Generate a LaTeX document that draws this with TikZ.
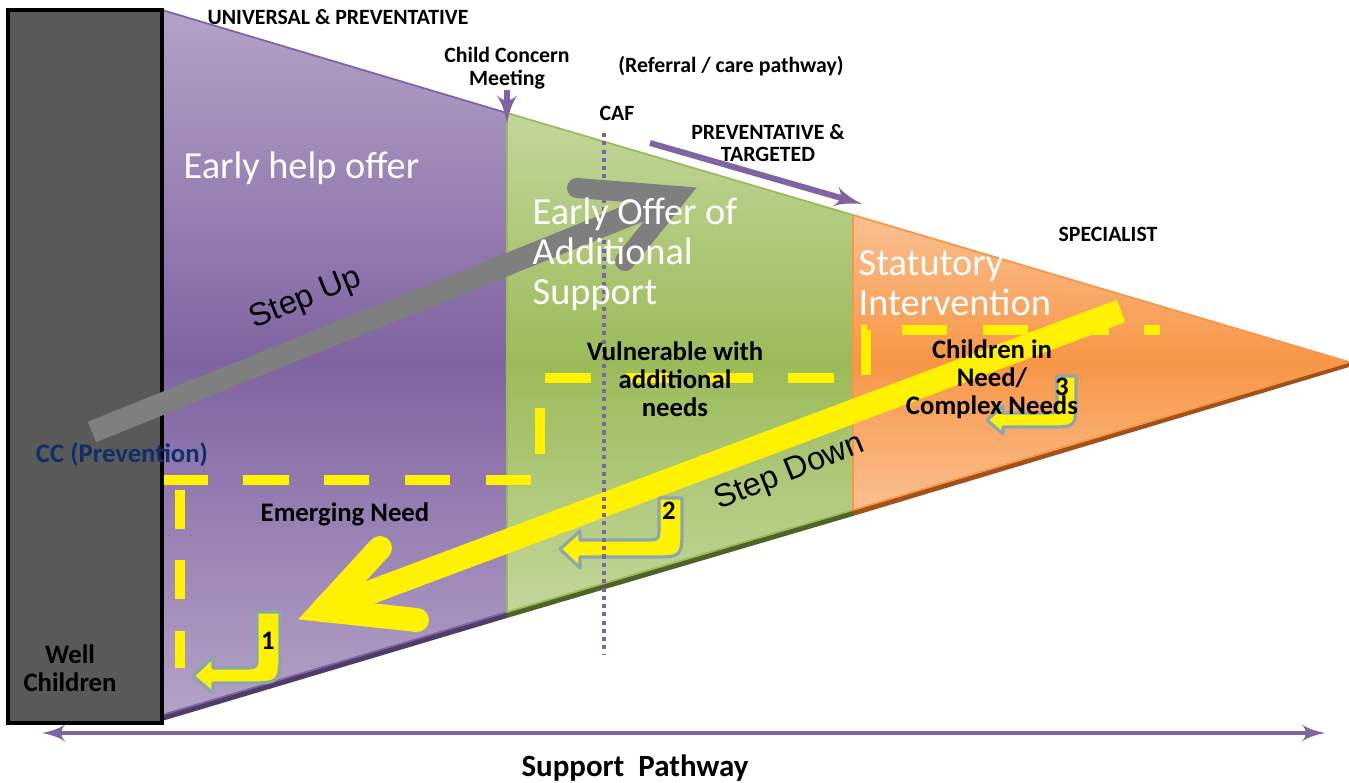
\documentclass[tikz,border=0pt]{standalone}
\usepackage{fontspec}
\setmainfont{Carlito}
\newfontfamily\arialfont{Liberation Sans}
\usetikzlibrary{shapes,arrows,positioning}

\definecolor{wellgrey}{HTML}{595959}
\definecolor{stepgrey}{HTML}{7F7F7F}
\definecolor{pathpurple}{HTML}{8064A2}
\definecolor{lilac}{HTML}{B3A2C7}
\definecolor{lilacshadow}{HTML}{4F3D68}
\definecolor{leaf}{HTML}{9BBB59}
\definecolor{paleleaf}{HTML}{C3D69B}
\definecolor{leafshadow}{HTML}{4F6228}
\definecolor{amber}{HTML}{F79646}
\definecolor{paleamber}{HTML}{FAC090}
\definecolor{ambershadow}{HTML}{A0521A}
\definecolor{ccblue}{HTML}{0F2F6B}
\definecolor{turnedge}{HTML}{8DA6AE}

\tikzstyle{tag} = [font=\bfseries\fontsize{6.2}{6.5}\selectfont, align=center, inner sep=0pt]
\tikzstyle{need} = [font=\bfseries\fontsize{7.6}{8}\selectfont, align=center, inner sep=0pt]
\tikzstyle{zone} = [text=white, font=\fontsize{10.9}{11.4}\selectfont, align=left, anchor=west, inner sep=0pt]
\tikzstyle{steplabel} = [font=\arialfont\fontsize{9.2}{10}\selectfont, rotate=22, inner sep=0pt]
\tikzstyle{pathline} = [draw=pathpurple, -latex', line width=1.7pt]
\tikzstyle{dashline} = [draw=yellow, line width=2.85pt, dash pattern=on 13pt off 10pt]
\tikzstyle{turn} = [fill=yellow, draw=turnedge, line width=0.9pt, line join=round]
\tikzstyle{chevron} = [line cap=round, line join=miter]

\begin{document}
\begin{tikzpicture}[x=0.01cm, y=-0.01cm]
	\useasboundingbox (0,0) rectangle (1349,783);
	
	% the funnel: universal, targeted, specialist
	\fill[lilacshadow] (162,715) -- (507,612) -- (507,618) -- (162,721) -- cycle;
	\fill[leafshadow] (507,612) -- (853,510) -- (853,516) -- (507,618) -- cycle;
	\fill[ambershadow] (853,510) -- (1349,362) -- (1349,367) -- (853,516) -- cycle;
	\shadedraw[draw=pathpurple, line width=0.5pt, top color=lilac, bottom color=lilac, middle color=pathpurple] (162,10) -- (507,113) -- (507,612) -- (162,715) -- cycle;
	\shadedraw[draw=leaf, line width=0.5pt, top color=paleleaf, bottom color=paleleaf, middle color=leaf] (507,113) -- (853,215) -- (853,510) -- (507,612) -- cycle;
	\shadedraw[draw=amber, line width=0.5pt, top color=paleamber, bottom color=paleamber, middle color=amber] (853,215) -- (1349,362) -- (853,510) -- cycle;
	
	\draw[dashline] (162,480) -| (540,378) -| (866,330) -- (1160,330);
	\draw[dashline, dash pattern=on 11pt off 9pt] (180,490) -- (180,668);
	
	\coordinate (downstart) at (1121,311);
	\coordinate (downtip) at (323,610);
	\draw[yellow, line width=6.8pt] (downstart) -- (downtip);
	\draw[yellow, chevron, line width=6.8pt] (380,548) -- (downtip) -- (417,620);
	
	\draw[turn] (257,612) -- (280,612) -- (280,650) .. controls (280,683) .. (247,683) -- (213,683) -- (213,693) -- (193,676) -- (213,657) -- (213,668) -- (243,668) .. controls (257,668) .. (257,654) -- cycle;
	\draw[turn] (659,498) -- (682,498) -- (682,527) .. controls (682,557) .. (652,557) -- (580,557) -- (580,568) -- (560,549) -- (580,531) -- (580,540) -- (645,540) .. controls (659,540) .. (659,526) -- cycle;
	\draw[turn] (1057,376) -- (1076,376) -- (1076,400) .. controls (1076,427) .. (1049,427) -- (1003,427) -- (1003,434) -- (987,420) -- (1003,406) -- (1003,413) -- (1045,413) .. controls (1057,413) .. (1057,401) -- cycle;
	
	\coordinate (caftop) at (604,133);
	\coordinate (cafbottom) at (604,655);
	\draw[pathpurple, line width=1.15pt, dash pattern=on 1.15pt off 1.2pt] (caftop) -- (cafbottom);
	
	\draw[fill=wellgrey, line width=0.9pt] (8,10) rectangle (162,723);
	
	\coordinate (upstart) at (92,432);
	\coordinate (uptip) at (677,196);
	\draw[stepgrey, line width=6.26pt] (upstart) -- (uptip);
	\draw[stepgrey, chevron, line width=5.7pt] (577,188) -- (uptip) -- (625,261);
	
	\node[tag] (universal) at (338,17) {UNIVERSAL \& PREVENTATIVE};
	\node[tag] (ccm) at (507,68) {Child Concern\\Meeting};
	\coordinate (ccmtip) at (507,123);
	\path[pathline] (ccm) -- (ccmtip);
	\node[tag] (referral) at (731,66) {(Referral / care pathway)};
	\node[tag] (caf) at (617,113) {CAF};
	\coordinate (targetfrom) at (650,143);
	\coordinate (targetto) at (862,204);
	\path[pathline] (targetfrom) -- (targetto);
	\node[tag] (targeted) at (768,143) {PREVENTATIVE \&\\TARGETED};
	\node[tag] (specialist) at (1108,234) {SPECIALIST};
	
	\node[zone] (earlyhelp) at (183,168) {Early help offer};
	\node[zone] (earlyoffer) at (532,254) {Early Offer of\\Additional\\Support};
	\node[zone] (statutory) at (858,283) {Statutory\\Intervention};
	
	\node[need] (vulnerable) at (675,379) {Vulnerable with\\additional\\needs};
	\node[need] (complex) at (992,379) {Children in\\Need/\\Complex Needs};
	\node[need] (emerging) at (345,514) {Emerging Need};
	\node[need, text=ccblue] (prevention) at (122,455) {CC (Prevention)};
	\node[need] (well) at (70,668) {Well\\Children};
	
	\node[need] (one) at (268,641) {1};
	\node[need] (two) at (669,511) {2};
	\node[need] (three) at (1062,387) {3};
	
	\node[steplabel] (stepup) at (306,299) {Step Up};
	\node[steplabel] (stepdown) at (790,473) {Step Down};
	
	\coordinate (pathleft) at (42,733);
	\coordinate (pathright) at (1325,733);
	\path[pathline, latex'-latex', line width=1.3pt] (pathleft) -- (pathright);
	\node[font=\bfseries\fontsize{8.8}{10}\selectfont, inner sep=0pt] (support) at (635,768) {Support\ \ Pathway};
\end{tikzpicture}
\end{document}
